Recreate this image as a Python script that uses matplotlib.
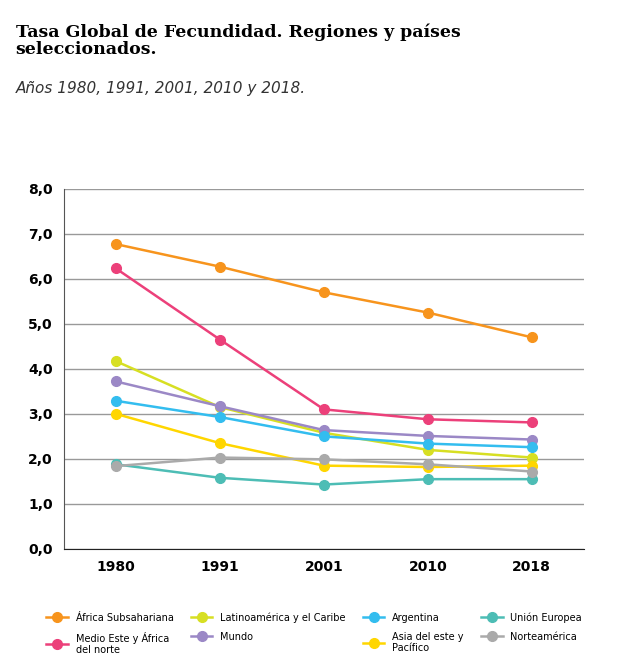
import matplotlib
matplotlib.use("Agg")
import matplotlib.pyplot as plt

years = ["1980", "1991", "2001", "2010", "2018"]
names = ["África Subsahariana", "Medio Este y África\ndel norte", "Latinoamérica y el Caribe", "Mundo",
         "Argentina", "Asia del este y\nPacífico", "Unión Europea", "Norteamérica"]
africa = [6.77, 6.27, 5.70, 5.25, 4.70]
medio = [6.23, 4.65, 3.10, 2.88, 2.81]
latino = [4.17, 3.15, 2.58, 2.20, 2.03]
mundo = [3.72, 3.17, 2.64, 2.51, 2.43]
argentina = [3.29, 2.93, 2.50, 2.34, 2.26]
asia = [3.00, 2.35, 1.85, 1.82, 1.85]
ue = [1.88, 1.58, 1.43, 1.55, 1.55]
norte = [1.84, 2.03, 1.99, 1.88, 1.72]
series = [africa, medio, latino, mundo, argentina, asia, ue, norte]
colors = ["#f7941d", "#ec407a", "#d7df23", "#9b88c6", "#33bdef", "#ffd600", "#4dbdb5", "#aaaaaa"]

fig = plt.figure(figsize=(6.27, 6.67), dpi=100)
ax = fig.add_axes([0.102, 0.177, 0.829, 0.54])
x = range(len(years))
handles = []
for vals, c, n in zip(series, colors, names):
    h, = ax.plot(x, vals, "-o", color=c, lw=1.8, ms=7, label=n)
    handles.append(h)
ax.set_xlim(-0.5, 4.5)
ax.set_ylim(0, 8)
ax.set_yticks(range(9))
ax.set_yticklabels([f"{v},0" for v in range(9)], fontsize=10, fontweight="bold")
ax.set_xticks(list(x))
ax.set_xticklabels(years, fontsize=10, fontweight="bold")
ax.tick_params(length=0, pad=8)
ax.grid(axis="y", color="#999999", lw=1)
ax.set_axisbelow(True)
for s in ["top", "right"]:
    ax.spines[s].set_visible(False)
ax.spines["left"].set_color("#555555")
ax.spines["bottom"].set_color("#222222")

fig.text(0.025, 0.965, "Tasa Global de Fecundidad. Regiones y países\nseleccionados.",
         fontsize=12.5, fontweight="bold", family="DejaVu Serif", va="top", linespacing=1.0)
fig.text(0.025, 0.878, "Años 1980, 1991, 2001, 2010 y 2018.", fontsize=11, style="italic",
         color="#333333", va="top")

# legend fills column-major, pairs in names give the row layout
fig.legend(handles, names, ncol=4, loc="upper left", bbox_to_anchor=(0.06, 0.095),
           frameon=False, fontsize=7, handlelength=2.2, columnspacing=1.8, labelspacing=0.9)

fig.savefig("out.png", dpi=100)
